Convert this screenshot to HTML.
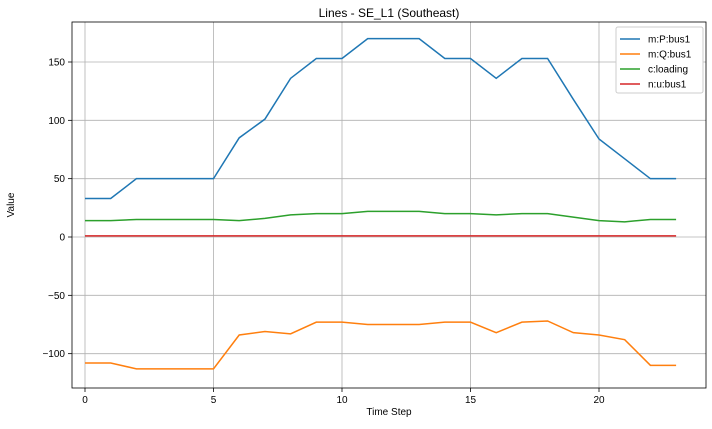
<!DOCTYPE html>
<html><head><meta charset="utf-8"><style>
body{margin:0;background:#fff;font-family:"Liberation Sans",sans-serif}
svg text{font-family:"Liberation Sans",sans-serif;font-size:10px;fill:#000}
</style></head><body>
<svg id="c" width="712" height="424"></svg>
<script>
const steps=[0,1,2,3,4,5,6,7,8,9,10,11,12,13,14,15,16,17,18,19,20,21,22,23];
const seriesP=[33,33,50,50,50,50,85,101,136,153,153,170,170,170,153,153,136,153,153,118,84,67,50,50];
const seriesQ=[-108,-108,-113,-113,-113,-113,-84,-81,-83,-73,-73,-75,-75,-75,-73,-73,-82,-73,-72,-82,-84,-88,-110,-110];
const seriesLoading=[14,14,15,15,15,15,14,16,19,20,20,22,22,22,20,20,19,20,20,17,14,13,15,15];
const seriesU=[1,1,1,1,1,1,1,1,1,1,1,1,1,1,1,1,1,1,1,1,1,1,1,1];
const xTicks=[0,5,10,15,20];
const yTicks=[-100,-50,0,50,100,150];
const names=["m:P:bus1","m:Q:bus1","c:loading","n:u:bus1"];
const colors=["#1f77b4","#ff7f0e","#2ca02c","#d62728"];
const L=72,R=706,T=22,B=388;
const x=v=>85+v*(599-85)/20;
const y=v=>237-v*(237-62)/150;
const svg=document.getElementById('c');
const NS="http://www.w3.org/2000/svg";
function mk(t,a,p){const e=document.createElementNS(NS,t);for(const k in a)e.setAttribute(k,a[k]);(p||svg).appendChild(e);return e;}
mk('rect',{x:L,y:T,width:R-L,height:B-T,fill:'#fff'});
xTicks.forEach(t=>{
const g=mk('line',{x1:x(t),x2:x(t),y1:T,y2:B,stroke:'#b0b0b0','stroke-width':0.8});

mk('line',{x1:x(t),x2:x(t),y1:B,y2:B+4,stroke:'#000','stroke-width':0.8});
const tx=mk('text',{x:x(t),y:B+15,'text-anchor':'middle'});tx.textContent=t;

});
yTicks.forEach(t=>{
const g=mk('line',{x1:L,x2:R,y1:y(t),y2:y(t),stroke:'#b0b0b0','stroke-width':0.8});

mk('line',{x1:L-4,x2:L,y1:y(t),y2:y(t),stroke:'#000','stroke-width':0.8});
const tx=mk('text',{x:L-7,y:y(t)+3.5,'text-anchor':'end'});tx.textContent=(t<0?'\u2212'+(-t):t);

});
[seriesP,seriesQ,seriesLoading,seriesU].forEach((s,i)=>{
const p=mk('polyline',{points:s.map((v,j)=>x(steps[j])+','+y(v)).join(' '),fill:'none',stroke:colors[i],'stroke-width':1.5});


});
mk('rect',{x:L,y:T,width:R-L,height:B-T,fill:'none',stroke:'#000','stroke-width':0.8});
let t=mk('text',{x:(L+R)/2,y:17,'text-anchor':'middle',style:'font-size:12px'});t.textContent='Lines - SE_L1 (Southeast)';

t=mk('text',{x:(L+R)/2,y:415,'text-anchor':'middle'});t.textContent='Time Step';

t=mk('text',{x:14,y:(T+B)/2,'text-anchor':'middle',transform:'rotate(-90 14 '+(T+B)/2+')'});t.textContent='Value';

const lg=mk('g',{});

mk('rect',{x:616,y:27,width:87,height:66,fill:'#fff',stroke:'#ccc',rx:2},lg);
names.forEach((n,i)=>{
const yy=39+i*15;
mk('line',{x1:620,x2:640,y1:yy,y2:yy,stroke:colors[i],'stroke-width':1.5},lg);
const e=mk('text',{x:648,y:yy+3.5},lg);e.textContent=n;

});
</script>
</body></html>
